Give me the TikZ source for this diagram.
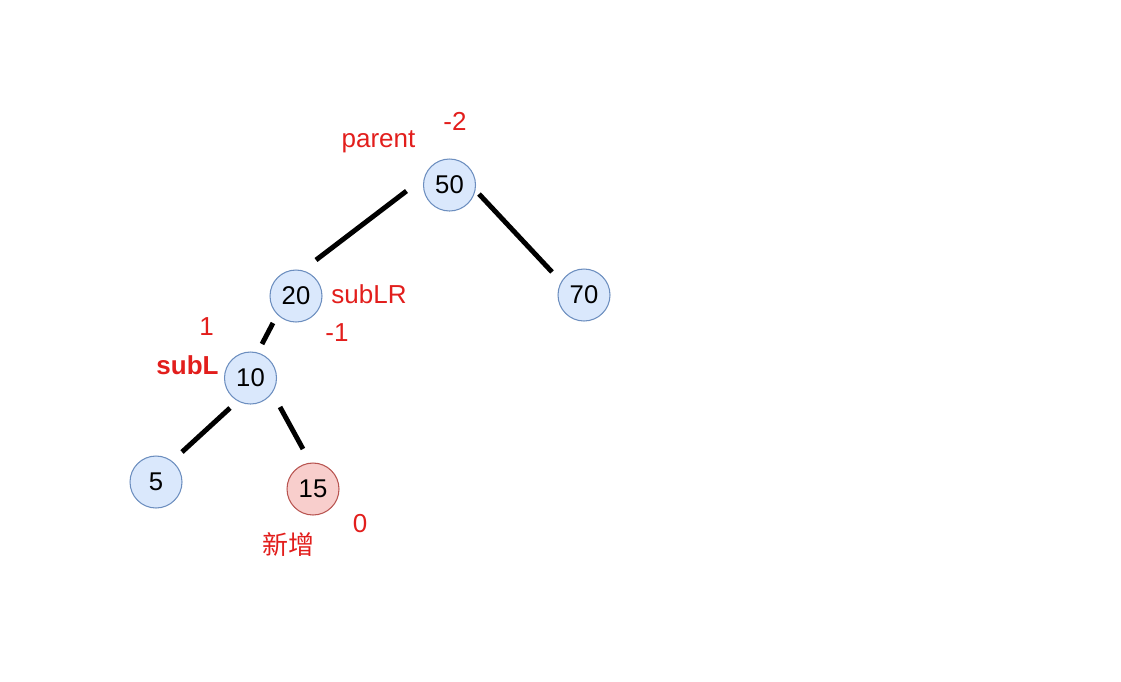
\documentclass[tikz,border=0pt]{standalone}
\usepackage{fontspec}
\setmainfont{Liberation Sans}
\newfontfamily\cjk{Noto Sans CJK SC}
\usetikzlibrary{calc}
\definecolor{bfill}{HTML}{DAE8FC}
\definecolor{bdraw}{HTML}{6C8EBF}
\definecolor{rfill}{HTML}{F8CECC}
\definecolor{rdraw}{HTML}{B85450}
\definecolor{lab}{RGB}{226,30,28}
\begin{document}
\begin{tikzpicture}[x=0.02cm,y=-0.02cm,
  tnode/.style={circle,draw=bdraw,fill=bfill,line width=0.6pt,minimum size=1.04cm,inner sep=0pt,outer sep=0pt,font=\fontsize{14.6}{17}\selectfont},
  newnode/.style={tnode,draw=rdraw,fill=rfill},
  lbl/.style={text=lab,inner sep=0pt,anchor=base,font=\fontsize{14.8}{17}\selectfont},
  edge/.style={line width=2.8pt,black}]
\useasboundingbox (0,0) rectangle (1121,681);
\node[tnode] (n50) at (449.5,185) {50};
\node[tnode] (n20) at (296,296) {20};
\node[tnode] (n70) at (584,295) {70};
\node[tnode] (n10) at (250.5,378) {10};
\node[tnode] (n5) at (156,482) {5};
\node[newnode] (n15) at (313,489) {15};
\draw[edge] ($(n50)+(-43,6)$) -- ($(n20)+(20,-36)$);
\draw[edge] ($(n50)+(29.5,9)$) -- ($(n70)+(-32,-23)$);
\draw[edge] ($(n20)+(-23,27)$) -- ($(n10)+(11.5,-34)$);
\draw[edge] ($(n10)+(-20.5,30)$) -- ($(n5)+(26,-30)$);
\draw[edge] ($(n10)+(29.5,29)$) -- ($(n15)+(-10,-40)$);
\node[lbl] (lparent) at (378.5,147) {parent};
\node[lbl] (lm2) at (455,130) {-2};
\node[lbl] (lsublr) at (369,303) {subLR};
\node[lbl] (l1) at (206.5,335) {1};
\node[lbl] (lm1) at (337,341) {-1};
\node[lbl,font=\fontsize{14.8}{17}\selectfont\bfseries] (lsubl) at (187.5,374) {subL};
\node[lbl] (l0) at (360,532) {0};
\node[lbl,anchor=center,font=\fontsize{14.8}{17}\selectfont\cjk] (lnew) at (288,545) {新增};
\end{tikzpicture}
\end{document}
